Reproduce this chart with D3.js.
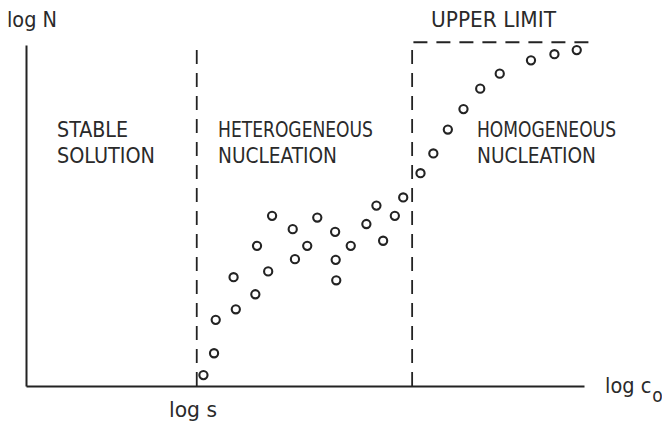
<!DOCTYPE html>
<html>
<head>
<meta charset="utf-8">
<script src="https://cdn.jsdelivr.net/npm/d3@7"></script>
<style>
  html, body { margin: 0; padding: 0; background: #fff; }
  svg { display: block; }
  text { font-family: "Liberation Sans Narrow", "DejaVu Sans Condensed", "Liberation Sans", sans-serif; fill: #2a2a2a; }
</style>
</head>
<body>
<svg id="chart" width="662" height="424"></svg>
<script>
// ---- data (arbitrary log units, 0..100) ----
const pointX = [31.8, 33.7, 34.0, 37.2, 37.6, 41.1, 41.4, 43.4, 44.1, 47.8, 48.2, 50.4, 52.2, 55.4, 55.5, 55.6,
                58.2, 61.0, 62.8, 64.0, 66.1, 67.6, 70.7, 73.0, 75.6, 78.4, 81.4, 84.9, 90.5, 94.7, 98.7];
const pointY = [3.2, 9.6, 19.4, 31.9, 22.5, 26.9, 41.1, 33.6, 49.9, 46.0, 37.2, 41.1, 49.4, 45.2, 37.0, 31.0,
                41.1, 47.5, 52.9, 42.6, 49.9, 55.3, 62.4, 68.2, 75.2, 81.2, 87.2, 91.6, 95.5, 97.3, 98.5];
const logS = 30.6;          // heterogeneous nucleation threshold
const homogeneousStart = 69.2;
const upperLimit = 100.8;
const upperLimitEnd = 101;
const regionLabels = [["STABLE", "SOLUTION"], ["HETEROGENEOUS", "NUCLEATION"], ["HOMOGENEOUS", "NUCLEATION"]];
const yAxisLabel = "log N";
const xAxisLabel = "log c";
const xAxisSub = "o";
const thresholdLabel = "log s";
const upperLabel = "UPPER LIMIT";

const svg = d3.select("#chart");
const x = d3.scaleLinear().domain([0, 100]).range([26, 584]);
const y = d3.scaleLinear().domain([0, 100]).range([386, 45]);
const ink = "#232323";

// axes (plain lines, no ticks)
const xAxis = d3.axisBottom(x).tickValues([]).tickSizeOuter(0);
const yAxis = d3.axisLeft(y).tickValues([]).tickSizeOuter(0);
svg.append("g").attr("transform", `translate(0,${y(0)})`).call(xAxis)
  .select(".domain").attr("stroke", ink).attr("stroke-width", 2);
svg.append("g").attr("transform", `translate(${x(0)},0)`).call(yAxis)
  .select(".domain").attr("stroke", ink).attr("stroke-width", 2);

// dashed boundaries
const dash = "14,9";
svg.append("line").attr("x1", x(logS)).attr("x2", x(logS)).attr("y1", y(0)).attr("y2", y(upperLimit))
  .attr("stroke", ink).attr("stroke-width", 1.8).attr("stroke-dasharray", dash);
svg.append("path")
  .attr("d", d3.line()([[x(homogeneousStart), y(0)], [x(homogeneousStart), y(upperLimit)], [x(upperLimitEnd), y(upperLimit)]]))
  .attr("fill", "none").attr("stroke", ink).attr("stroke-width", 1.8).attr("stroke-dasharray", dash);

// points
svg.append("g").selectAll("circle").data(pointX.map((d, i) => [d, pointY[i]])).join("circle")
  .attr("cx", d => x(d[0])).attr("cy", d => y(d[1])).attr("r", 4.1)
  .attr("fill", "#fff").attr("stroke", ink).attr("stroke-width", 2.1);

// text helper
function label(txt, px, py, size, len) {
  const t = svg.append("text").attr("x", px).attr("y", py).attr("font-size", size).text(txt);
  if (len) t.attr("textLength", len).attr("lengthAdjust", "spacingAndGlyphs");
  return t;
}

// region labels
const labelX = [57, 218, 477];
const labelW = [[71, 98], [155, 119], [139, 119]];
regionLabels.forEach((lines, i) => {
  label(lines[0], labelX[i], 137, 21.5, labelW[i][0]);
  label(lines[1], labelX[i], 162.5, 21.5, labelW[i][1]);
});

label(yAxisLabel, 7, 27, 21.5, 50);
label(thresholdLabel, 169, 416.5, 21.5, 48);
// x-axis label with subscript in one text element
const xl = svg.append("text").attr("x", 605).attr("y", 393).attr("font-size", 21.5);
xl.append("tspan").text(xAxisLabel);
xl.append("tspan").attr("dx", 1).attr("dy", 8.5).attr("font-size", 19).text(xAxisSub);
label(upperLabel, 431, 26.5, 21.5, 125);
</script>
</body>
</html>
